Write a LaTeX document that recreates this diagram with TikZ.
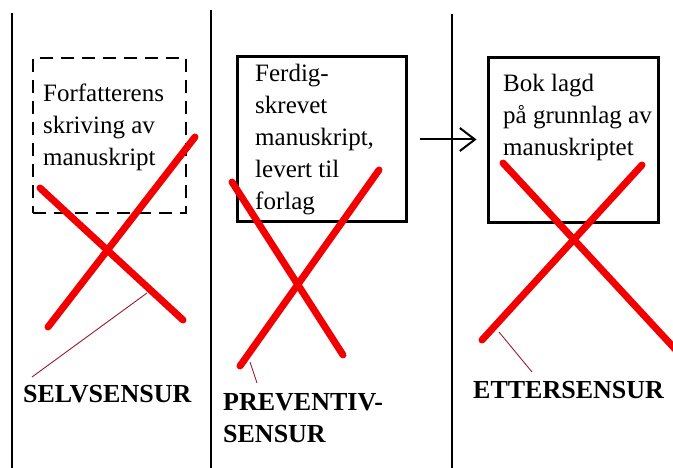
\documentclass[tikz,border=0pt]{standalone}
\usepackage{fontspec}
\setmainfont{Liberation Serif}
\usetikzlibrary{arrows.meta}
\definecolor{crossred}{HTML}{F20000}
\definecolor{leaderred}{HTML}{9B1B30}
\newcommand\stacklines[1]{\vtop{\halign{##\hfil\cr#1\crcr}}}
\tikzset{
  divider/.style={line width=1.4pt, black},
  draftbox/.style={draw, line width=1.4pt, dash pattern=on 13pt off 8pt, inner sep=0pt},
  stagebox/.style={draw, line width=3pt, inner sep=0pt},
  boxtext/.style={anchor=base west, inner sep=0pt, font=\fontsize{25}{32}\selectfont},
  labeltext/.style={anchor=base west, inner sep=0pt, font=\fontsize{26}{32}\selectfont\bfseries},
  crossline/.style={crossred, line width=7pt, line cap=round},
  leader/.style={leaderred, line width=0.9pt},
  flow/.style={line width=2pt, -{Straight Barb[length=15pt, width=23pt, line width=2pt]}}
}
\begin{document}
\begin{tikzpicture}[x=1pt, y=-1pt]
  \useasboundingbox[fill=white] (0,0) rectangle (673,468);

  % column dividers
  \draw[divider] (12,13) -- (12,468);
  \draw[divider] (211,10) -- (211,468);
  \draw[divider] (452,14) -- (452,468);

  % the three stages
  \node[draftbox, minimum width=153pt, minimum height=155pt] (draft) at (109.5,135.5) {};
  \node[stagebox, minimum width=169pt, minimum height=165pt] (delivered) at (321.5,139.5) {};
  \node[stagebox, minimum width=170pt, minimum height=165pt] (book) at (573,140.5) {};

  \node[boxtext] (drafttext) at (43,102)
    {\stacklines{Forfatterens\cr skriving av\cr manuskript}};
  \node[boxtext] (deliveredtext) at (255,82)
    {\stacklines{Ferdig-\cr skrevet\cr manuskript,\cr levert til\cr forlag}};
  \node[boxtext] (booktext) at (503,92)
    {\stacklines{Bok lagd\cr på grunnlag av\cr manuskriptet}};

  % flow from manuscript to book
  \draw[flow, shorten <=12pt, shorten >=10pt] (delivered.east) -- (delivered.east -| book.west);

  % red crosses
  \draw[crossline] (40,188) -- (183,320);
  \draw[crossline] (195,137) -- (48,327);
  \draw[crossline] (232,182) -- (343,355);
  \draw[crossline] (379,170) -- (240,366);
  \draw[crossline] (503,163) -- (676,350);
  \draw[crossline] (642,165) -- (482,340);

  % labels
  \node[labeltext] (selv) at (23,402) {SELVSENSUR};
  \node[labeltext] (prev) at (223,410) {\stacklines{PREVENTIV-\cr SENSUR}};
  \node[labeltext] (etter) at (473,398) {ETTERSENSUR};

  % leader lines from crosses to labels
  \coordinate (selvfoot) at (147,293);
  \coordinate (selvtip) at (32,377);
  \coordinate (prevfoot) at (250,362);
  \coordinate (prevtip) at (257,383);
  \coordinate (etterfoot) at (499,332);
  \coordinate (ettertip) at (532,372);
  \draw[leader] (selvfoot) -- (selvtip);
  \draw[leader] (prevfoot) -- (prevtip);
  \draw[leader] (etterfoot) -- (ettertip);
\end{tikzpicture}
\end{document}
